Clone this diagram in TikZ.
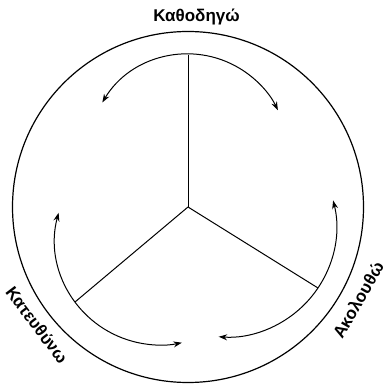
\documentclass[tikz,border=0pt]{standalone}
\usepackage{fontspec}
\setmainfont{Liberation Sans}
\usetikzlibrary{arrows.meta}

\begin{document}
\begin{tikzpicture}[
    x=1pt, y=1pt,
    % Styles
    rim/.style={draw=black, line width=1.2pt},
    spoke/.style={draw=black, line width=1pt},
    turn/.style={{Stealth[length=8.5pt, width=6pt]}-{Stealth[length=8.5pt, width=6pt]}, line width=1pt},
    lbl/.style={font=\fontsize{17}{19}\selectfont\bfseries, inner sep=0pt}
]
    \useasboundingbox (0,0) rectangle (387,385);

    % 1. OUTER RING
    \coordinate (hub) at (188,178);
    \draw[rim] (hub) circle[radius=175.5];

    % 2. SPOKES
    \coordinate (top_end) at (188,330);
    \coordinate (left_end) at (75,83);
    \coordinate (right_end) at (318,97);
    \draw[spoke] (hub) -- (top_end);
    \draw[spoke] (hub) -- (left_end);
    \draw[spoke] (hub) -- (right_end);

    % 3. CYCLE ARROWS
    \coordinate (top_arc) at (102.3,282.5);
    \coordinate (left_arc) at (58.6,172.2);
    \coordinate (right_arc) at (333.1,184.6);
    \draw[turn] (top_arc) arc[start angle=149, end angle=26, radius=100];
    \draw[turn] (left_arc) arc[start angle=165, end angle=282, radius=105];
    \draw[turn] (right_arc) arc[start angle=14, end angle=-94, radius=110];

    % 4. LABELS
    \node[lbl] (guide) at (196.5,368) {Καθοδηγώ};
    \node[lbl, rotate=-53] (direct) at (37,60) {Κατευθύνω};
    \node[lbl, rotate=60] (follow) at (358,85) {Ακολουθώ};

\end{tikzpicture}
\end{document}
